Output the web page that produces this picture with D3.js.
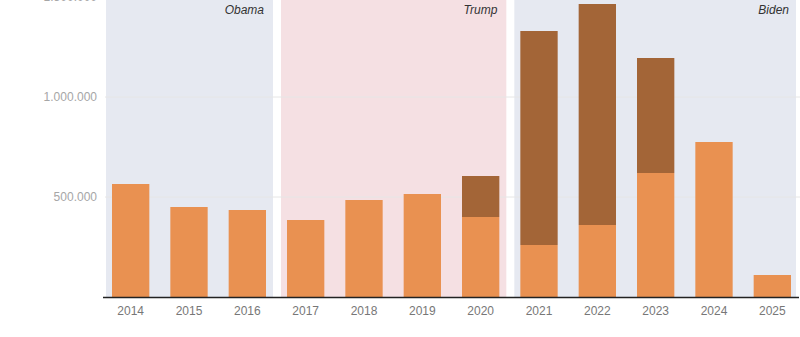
<!DOCTYPE html>
<html><head><meta charset="utf-8">
<script src="https://cdn.jsdelivr.net/npm/d3@7"></script>
<style>body{margin:0;background:#fff;}svg{display:block;font-family:"Liberation Sans",Arial,sans-serif;}</style>
</head><body>
<script>
const years = ["2014","2015","2016","2017","2018","2019","2020","2021","2022","2023","2024","2025"];
const baseValues = [565000,450000,435000,385000,485000,515000,400000,260000,360000,620000,775000,110000];
const extraValues = [0,0,0,0,0,0,205000,1070000,1105000,575000,0,0];
const yTicks = [500000,1000000,1500000];
const periodNames = ["Obama","Trump","Biden"];
const periodStart = ["2014","2017","2021"];
const periodEnd = ["2016","2020","2025"];
const periodColors = ["#e6e9f1","#f5e0e3","#e6e9f1"];

const W=800,H=337;
const svg=d3.select("body").append("svg").attr("width",W).attr("height",H);
const x=d3.scaleBand().domain(years).range([101.5,801.5]).paddingInner(0.36).paddingOuter(0.18);
const y=d3.scaleLinear().domain([0,1500000]).range([297,-3]);
const loc=d3.formatLocale({decimal:",",thousands:".",grouping:[3],currency:["",""]});
const fmt=loc.format(",.0f");

// period backgrounds
periodNames.forEach((p,i)=>{
  const x0=x(periodStart[i])-6;
  const x1=Math.min(x(periodEnd[i])+x.bandwidth()+7,796);
  svg.append("rect").attr("x",x0).attr("y",0).attr("width",x1-x0).attr("height",y(0)).attr("fill",periodColors[i]);
  svg.append("text").attr("x",x(periodEnd[i])+x.bandwidth()-2).attr("y",14)
    .attr("text-anchor","end").attr("font-size",12).attr("font-style","italic").attr("fill","#333").text(p);
});

// gridlines + y labels
yTicks.forEach(t=>{
  svg.append("line").attr("x1",105).attr("x2",800).attr("y1",y(t)).attr("y2",y(t)).attr("stroke","#e6e6e6").attr("stroke-width",1);
  svg.append("text").attr("x",97).attr("y",y(t)).attr("dy","0.35em").attr("text-anchor","end")
    .attr("font-size",12).attr("fill","#a6a6a6").text(fmt(t));
});

const stackData=years.map((yr,i)=>({year:yr,base:baseValues[i],extra:extraValues[i]}));
const series=d3.stack().keys(["base","extra"])(stackData);
const colors={base:"#e99151",extra:"#a36537"};
svg.selectAll("g.s").data(series).join("g").attr("fill",d=>colors[d.key])
  .selectAll("rect").data(d=>d.filter(v=>v[1]>v[0])).join("rect")
  .attr("x",d=>x(d.data.year)).attr("width",x.bandwidth())
  .attr("y",d=>y(d[1])).attr("height",d=>y(d[0])-y(d[1]));

// baseline
svg.append("line").attr("x1",103).attr("x2",799).attr("y1",297.5).attr("y2",297.5).attr("stroke","#222").attr("stroke-width",1.5);

// x labels
svg.selectAll("text.xl").data(years).join("text").attr("class","xl")
  .attr("x",d=>x(d)+x.bandwidth()/2).attr("y",315).attr("text-anchor","middle")
  .attr("font-size",12).attr("fill","#777").text(d=>d);
</script>
</body></html>
